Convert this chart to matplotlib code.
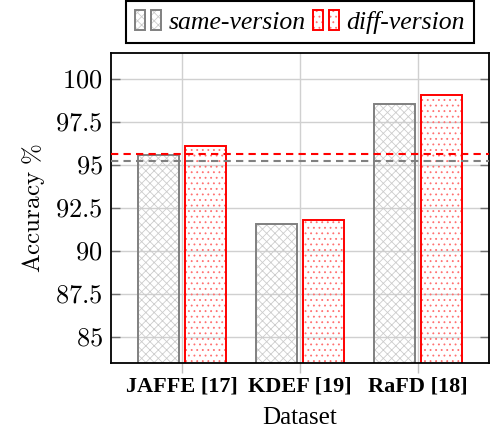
import numpy as np
import matplotlib
matplotlib.use('Agg')
import matplotlib.pyplot as plt
from matplotlib.patches import Patch
from matplotlib.legend_handler import HandlerTuple
from matplotlib.ticker import FixedLocator, FuncFormatter

plt.rcParams['font.family'] = ['Liberation Serif', 'DejaVu Serif']
plt.rcParams['mathtext.fontset'] = 'cm'
plt.rcParams['hatch.linewidth'] = 0.6

# values
datasets = ['JAFFE [17]', 'KDEF [19]', 'RaFD [18]']
same_version = [95.58, 91.57, 98.56]
diff_version = [96.12, 91.80, 99.09]
same_mean = 95.25
diff_mean = 95.66
yticks = [85, 87.5, 90, 92.5, 95, 97.5, 100]

gray, gray_hatch = '#808080', '#cccccc'
red, red_hatch = '#ff0000', '#ff7070'
same_hatch, diff_hatch = 'xxxx', '...'
w = 0.35
lw = 1.4

fig = plt.figure(figsize=(5.01, 4.41), dpi=100)
ax = fig.add_axes([0.2216, 0.1769, 0.7545, 0.7029])
ax.set_axisbelow(True)

x = np.arange(len(datasets))


def bars(xs, vals, edge, hcol, hatch):
    # hatch and outline drawn separately so they can have different colours
    ax.bar(xs, vals, w, facecolor='none', edgecolor=hcol, hatch=hatch, linewidth=0, zorder=2)
    ax.bar(xs, vals, w, fill=False, edgecolor=edge, linewidth=lw, zorder=2.5)


bars(x - 0.2, same_version, gray, gray_hatch, same_hatch)
bars(x + 0.2, diff_version, red, red_hatch, diff_hatch)

ax.axhline(diff_mean, color=red, lw=1.5, dashes=(3.5, 2.5), zorder=3)
ax.axhline(same_mean, color=gray, lw=1.5, dashes=(3.5, 2.5), zorder=3)

ax.set_xlim(-0.6, 2.6)
ax.set_ylim(83.5, 101.5)
ax.set_xticks(x)
ax.set_xticklabels(datasets, fontsize=16, fontweight='bold')
ax.yaxis.set_major_locator(FixedLocator(yticks))
ax.yaxis.set_major_formatter(FuncFormatter(lambda v, p: '$%g$' % v))
ax.tick_params(axis='y', labelsize=19, direction='in', left=True, right=True,
               length=6.5, width=1, color='#707070', pad=6)
ax.tick_params(axis='x', direction='out', length=7, width=1, color='#c0c0c0', pad=3)

ax.grid(True, color='#d0d0d0', lw=1)
for s in ax.spines.values():
    s.set_linewidth(1.3)

ax.set_xlabel('Dataset', fontsize=18, labelpad=7)
ax.set_ylabel(r'$\mathrm{Accuracy}\ \%$', fontsize=18, labelpad=6)


def pair(edge, hcol, hatch):
    one = lambda: (Patch(facecolor='none', edgecolor=hcol, hatch=hatch, lw=0),
                   Patch(fill=False, edgecolor=edge, lw=lw))
    return (one(), one())


# legend: two small bars per entry like pgfplots ybar legend
h_same = pair(gray, gray_hatch, same_hatch)
h_diff = pair(red, red_hatch, diff_hatch)
leg = ax.legend([h_same, h_diff], ['same-version', 'diff-version'],
                handler_map={h_same: HandlerTuple(ndivide=None, pad=0.25),
                             h_diff: HandlerTuple(ndivide=None, pad=0.25)},
                ncol=2, loc='upper center', bbox_to_anchor=(0.599, 0.998),
                bbox_transform=fig.transFigure, prop={'style': 'italic', 'size': 18.5},
                fancybox=False, framealpha=1, edgecolor='black',
                handlelength=1.0, handleheight=0.8, handletextpad=0.3,
                columnspacing=0.3, borderpad=0.35, borderaxespad=0)
leg.get_frame().set_linewidth(1.5)

fig.savefig('out.png', dpi=100)
